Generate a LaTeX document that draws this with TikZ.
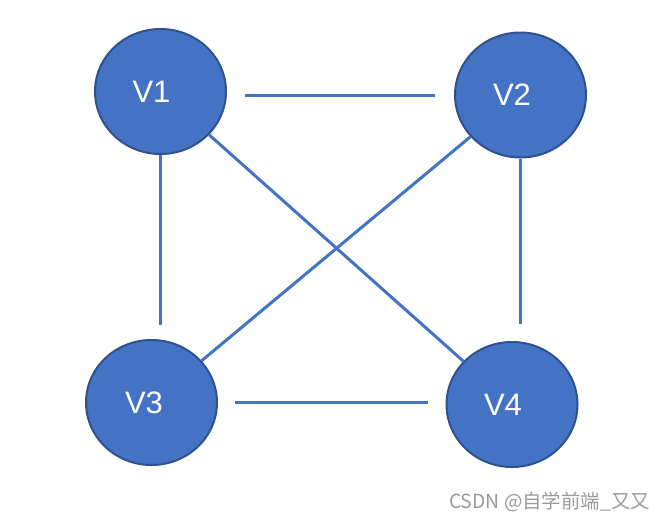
\documentclass[tikz,border=0pt]{standalone}
\usepackage{fontspec}
\setmainfont{Liberation Sans}
\newfontfamily\cjkfont{Noto Sans CJK SC}
\usetikzlibrary{shapes.geometric}
\definecolor{nodefill}{HTML}{4472C4}
\definecolor{nodeborder}{HTML}{2F528F}
\definecolor{edgecol}{HTML}{4472C4}
\definecolor{wmgray}{HTML}{9A9A9A}
\begin{document}
\begin{tikzpicture}[x=1pt,y=-1pt,
  vertex/.style={ellipse, draw=nodeborder, line width=2pt, fill=nodefill,
    minimum width=131pt, minimum height=125pt, inner sep=0pt,
    text=white, font=\fontsize{31}{31}\selectfont},
  edge/.style={draw=edgecol, line width=3pt}]
\useasboundingbox (0,0) rectangle (666,520);
\node[vertex] (v1) at (160.5,91.5) {\raisebox{-2pt}{V1}\hspace*{18pt}};
\node[vertex] (v2) at (520.5,95) {\raisebox{-1pt}{V2}\hspace*{17pt}};
\node[vertex] (v3) at (151.5,402.5) {\raisebox{-1pt}{V3}\hspace*{15pt}};
\node[vertex] (v4) at (512,404.5) {V4\hspace*{18pt}};
\draw[edge, shorten <=18pt, shorten >=19pt] (v1.east |- v2.west) -- (v2.west);
\draw[edge, shorten <=17pt, shorten >=18pt] (v3.east) -- (v4.west |- v3.east);
\draw[edge, shorten >=14pt] (v1.south) -- (v1.south |- v3.north);
\draw[edge, shorten >=17pt] (v2.south) -- (v2.south |- v4.north);
\draw[edge] (v1) -- (v4);
\draw[edge] (v2) -- (v3);
\node[anchor=east, text=wmgray, font=\cjkfont\fontsize{19.4}{19.4}\selectfont, inner sep=0pt] (wm) at (650,502) {CSDN @自学前端\_又又};
\end{tikzpicture}
\end{document}
